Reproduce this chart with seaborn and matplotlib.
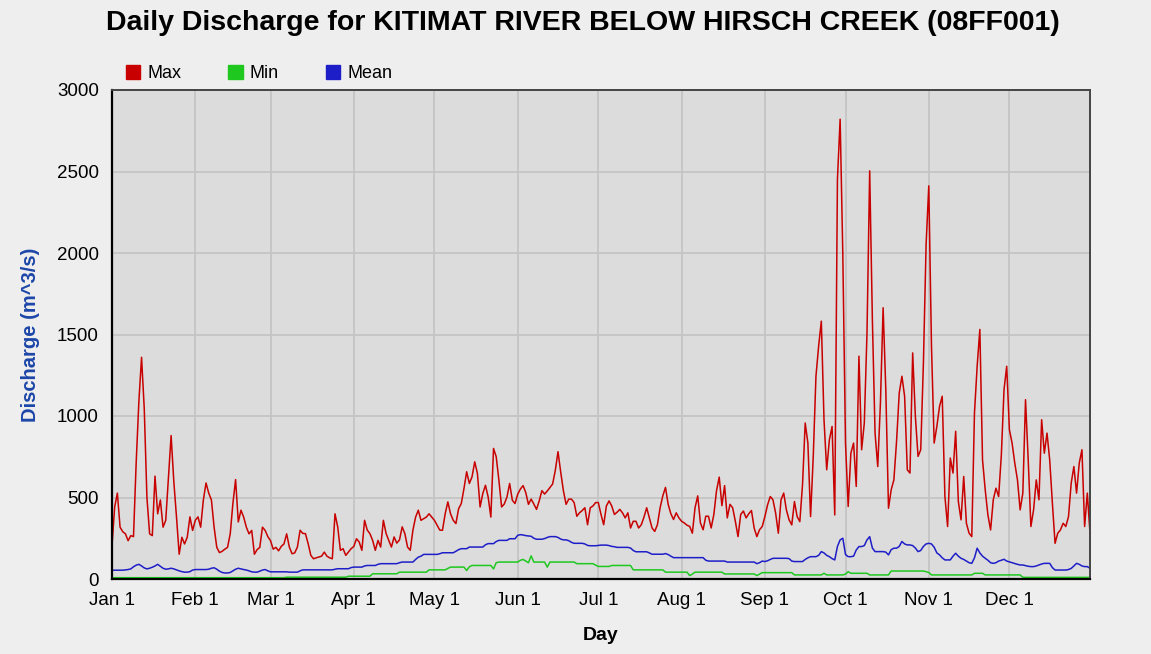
import numpy as np
import pandas as pd
import matplotlib
matplotlib.use('Agg')
import matplotlib.pyplot as plt
import seaborn as sns
from matplotlib.patches import Patch

# Daily discharge (m^3/s), Jan 1 .. Dec 31, one line per month
max_flow = [
    204, 443, 527, 318, 290, 277, 235, 266, 260, 714, 1089, 1360, 1047, 500, 277, 266, 631, 400, 485, 318, 360, 620, 880, 600, 381, 152, 256, 215, 256, 381, 298,
    360, 381, 318, 485, 589, 527, 485, 318, 194, 162, 170, 183, 194, 277, 464, 610, 350, 422, 380, 318, 277, 298, 152, 180, 194, 318, 298, 260,
    235, 183, 194, 173, 200, 215, 277, 196, 155, 160, 196, 299, 280, 278, 217, 145, 124, 130, 135, 140, 165, 140, 130, 124, 400, 320, 176, 186, 145, 165, 186,
    200, 247, 227, 176, 360, 300, 278, 237, 176, 237, 196, 360, 280, 237, 196, 258, 220, 240, 320, 278, 196, 176, 300, 380, 422, 360, 370, 380, 400, 380,
    360, 330, 300, 299, 400, 473, 400, 360, 340, 431, 463, 555, 658, 586, 627, 719, 648, 442, 524, 575, 503, 380, 801, 750, 606, 442, 460, 503, 586, 483, 463,
    520, 552, 573, 530, 458, 490, 460, 427, 479, 542, 521, 540, 562, 583, 667, 781, 656, 542, 458, 490, 490, 469, 385, 406, 420, 437, 333, 437, 448, 469,
    469, 396, 333, 448, 479, 448, 396, 410, 427, 406, 375, 406, 313, 354, 354, 313, 333, 380, 437, 375, 313, 292, 333, 437, 510, 562, 458, 400, 365, 406, 375,
    354, 344, 330, 323, 281, 437, 510, 344, 302, 385, 385, 313, 396, 542, 625, 450, 573, 375, 458, 437, 354, 260, 396, 417, 375, 400, 420, 313, 260, 302, 322,
    383, 455, 506, 486, 404, 281, 486, 527, 424, 363, 332, 475, 383, 352, 578, 957, 834, 383, 752, 1244, 1428, 1582, 977, 670, 854, 936, 393, 2452, 2821, 1991,
    834, 445, 772, 834, 568, 1367, 793, 957, 1510, 2504, 1592, 895, 690, 1080, 1664, 1162, 434, 547, 608, 844, 1141, 1244, 1121, 670, 650, 1387, 998, 752, 793, 1326, 2053,
    2412, 1428, 834, 936, 1059, 1121, 506, 322, 742, 650, 906, 475, 363, 629, 342, 281, 260, 1018, 1305, 1531, 731, 547, 393, 301, 486, 557, 506, 760, 1162, 1305,
    916, 834, 711, 608, 424, 527, 1100, 731, 322, 424, 608, 486, 977, 772, 895, 731, 465, 219, 281, 301, 342, 322, 383, 588, 690, 527, 711, 793, 322, 527, 281,
]

min_flow = [
    8, 8, 8, 8, 8, 8, 8, 8, 8, 8, 8, 8, 8, 8, 8, 8, 8, 8, 8, 8, 8, 8, 8, 8, 8, 8, 8, 8, 8, 8, 8,
    8, 8, 8, 8, 8, 8, 8, 8, 8, 8, 8, 8, 8, 8, 8, 8, 8, 8, 8, 8, 8, 8, 8, 8, 8, 8, 8, 8,
    8, 8, 8, 8, 8, 8, 11, 11, 11, 11, 11, 11, 11, 11, 11, 11, 11, 11, 11, 11, 11, 11, 11, 11, 11, 11, 11, 11, 11, 17, 17,
    17, 17, 17, 17, 17, 17, 17, 32, 32, 32, 32, 32, 32, 32, 32, 32, 32, 42, 42, 42, 42, 42, 42, 42, 42, 42, 42, 42, 56, 56,
    56, 56, 56, 56, 56, 65, 73, 73, 73, 73, 73, 73, 52, 75, 83, 83, 83, 83, 83, 83, 83, 83, 62, 100, 104, 104, 104, 104, 104, 104, 104,
    104, 115, 120, 110, 100, 142, 104, 104, 104, 104, 104, 73, 104, 104, 104, 104, 104, 104, 104, 104, 104, 104, 94, 94, 94, 94, 94, 94, 94, 85,
    77, 77, 77, 77, 77, 83, 83, 83, 83, 83, 83, 83, 83, 56, 56, 56, 56, 56, 56, 56, 56, 56, 56, 56, 56, 42, 42, 42, 42, 42, 42,
    42, 42, 42, 21, 30, 42, 42, 42, 42, 42, 42, 42, 42, 42, 42, 42, 31, 31, 31, 31, 31, 31, 31, 31, 31, 31, 31, 31, 21, 30, 39,
    39, 39, 39, 39, 39, 39, 39, 39, 39, 39, 39, 25, 25, 25, 25, 25, 25, 25, 25, 25, 25, 25, 35, 25, 25, 25, 25, 25, 25, 25,
    30, 45, 35, 35, 35, 35, 35, 35, 35, 25, 25, 25, 25, 25, 25, 25, 25, 49, 49, 49, 49, 49, 49, 49, 49, 49, 49, 49, 49, 49, 45,
    40, 25, 25, 25, 25, 25, 25, 25, 25, 25, 25, 25, 25, 25, 25, 25, 25, 35, 35, 35, 35, 25, 25, 25, 25, 25, 25, 25, 25, 25,
    25, 25, 25, 25, 25, 10, 10, 10, 10, 10, 10, 10, 10, 10, 10, 10, 10, 10, 10, 10, 10, 10, 10, 10, 10, 10, 10, 10, 10, 10, 10,
]

mean_flow = [
    54, 54, 54, 54, 54, 56, 58, 62, 75, 85, 90, 80, 68, 62, 66, 72, 80, 90, 78, 66, 60, 62, 66, 62, 56, 50, 45, 42, 42, 45, 55,
    58, 58, 58, 58, 58, 60, 66, 69, 60, 48, 40, 37, 37, 40, 50, 60, 66, 62, 58, 55, 50, 44, 42, 42, 48, 55, 58, 50,
    44, 44, 44, 44, 44, 44, 44, 42, 42, 42, 42, 50, 56, 56, 56, 56, 56, 56, 56, 56, 56, 56, 56, 56, 60, 63, 63, 63, 63, 63, 70,
    73, 73, 73, 73, 80, 83, 83, 83, 83, 90, 94, 94, 94, 94, 94, 94, 94, 100, 104, 104, 104, 104, 104, 120, 134, 140, 151, 151, 151, 151,
    151, 151, 155, 161, 161, 161, 161, 161, 170, 180, 186, 186, 186, 196, 196, 196, 196, 196, 196, 210, 217, 217, 217, 230, 237, 237, 237, 237, 247, 247, 247,
    268, 272, 270, 266, 264, 262, 250, 244, 244, 244, 248, 255, 260, 260, 260, 255, 245, 240, 240, 235, 225, 219, 219, 219, 219, 215, 206, 204, 204, 204,
    206, 208, 208, 208, 205, 200, 198, 194, 194, 194, 194, 194, 190, 175, 167, 167, 167, 167, 167, 160, 152, 152, 152, 152, 152, 156, 150, 140, 131, 131, 131,
    131, 131, 131, 131, 131, 131, 131, 131, 131, 115, 110, 110, 110, 110, 110, 110, 110, 104, 104, 104, 104, 104, 104, 104, 104, 104, 104, 104, 94, 100, 110,
    107, 112, 120, 127, 127, 127, 127, 127, 127, 125, 110, 107, 107, 107, 107, 120, 130, 137, 137, 137, 145, 168, 160, 145, 137, 125, 117, 200, 240, 250,
    150, 137, 137, 140, 178, 199, 199, 205, 240, 260, 190, 168, 168, 168, 168, 165, 148, 180, 189, 189, 200, 230, 215, 209, 209, 205, 190, 168, 175, 200, 215,
    219, 215, 195, 160, 148, 130, 117, 117, 117, 140, 158, 140, 127, 120, 110, 100, 96, 130, 189, 160, 140, 127, 115, 100, 96, 100, 110, 115, 121, 110,
    105, 100, 95, 90, 86, 86, 82, 78, 76, 76, 80, 86, 92, 96, 96, 96, 70, 55, 55, 55, 55, 55, 58, 65, 80, 96, 90, 80, 76, 76, 66,
]

month_starts = [0, 31, 59, 90, 120, 151, 181, 212, 243, 273, 304, 334]
month_labels = ['Jan 1', 'Feb 1', 'Mar 1', 'Apr 1', 'May 1', 'Jun 1',
                'Jul 1', 'Aug 1', 'Sep 1', 'Oct 1', 'Nov 1', 'Dec 1']
series_names = ['Max', 'Min', 'Mean']
series_colors = {'Max': '#c80000', 'Min': '#1ec81e', 'Mean': '#1e1ec8'}

# long-form table for seaborn
frames = []
for name, vals in zip(series_names, [max_flow, min_flow, mean_flow]):
    frames.append(pd.DataFrame({'day': np.arange(len(vals)), 'discharge': vals, 'series': name}))
df = pd.concat(frames, ignore_index=True)

sns.set_style('white')
plt.rcParams['font.family'] = ['Liberation Sans', 'DejaVu Sans']
plt.rcParams['text.color'] = 'black'
plt.rcParams['axes.labelcolor'] = 'black'

fig = plt.figure(figsize=(11.51, 6.54), dpi=100, facecolor='#eeeeee')
ax = fig.add_axes([112/1151, 1 - 579/654, (1090 - 112)/1151, (579 - 90)/654])
ax.set_facecolor('#dcdcdc')

sns.lineplot(data=df, x='day', y='discharge', hue='series', hue_order=series_names,
             palette=series_colors, estimator=None, linewidth=1.1, legend=False, ax=ax)

ax.set_xlim(0, 364)
ax.set_ylim(0, 3000)
ax.set_xticks(month_starts)
ax.set_xticklabels(month_labels)
ax.set_yticks(np.arange(0, 3001, 500))
ax.grid(True, color='#c4c4c4', linewidth=1.3)
ax.set_axisbelow(True)
ax.tick_params(direction='out', length=6, width=1.2, labelsize=13.5, colors='black', pad=3.5)

for side in ['left', 'bottom']:
    ax.spines[side].set_color('black')
    ax.spines[side].set_linewidth(1.6)
for side in ['top', 'right']:
    ax.spines[side].set_color('#444444')
    ax.spines[side].set_linewidth(1.4)

ax.set_xlabel('Day', fontsize=14, fontweight='bold', labelpad=13)
ax.set_ylabel('Discharge (m^3/s)', fontsize=14.5, fontweight='bold', color='#1c46a8', labelpad=12)

fig.suptitle('Daily Discharge for KITIMAT RIVER BELOW HIRSCH CREEK (08FF001)',
             x=583/1151, y=1 - 23/654, va='center', fontsize=20.5, fontweight='bold', color='black')

handles = [Patch(facecolor=series_colors[n], edgecolor=series_colors[n]) for n in series_names]
ax.legend(handles, series_names, ncol=3, loc='lower left', bbox_to_anchor=(0.012, 1.012),
          frameon=False, fontsize=13, handlelength=0.8, handleheight=0.8,
          handletextpad=0.4, columnspacing=2.6, borderaxespad=0, borderpad=0.1)

fig.savefig('out.png', dpi=100, facecolor=fig.get_facecolor())
